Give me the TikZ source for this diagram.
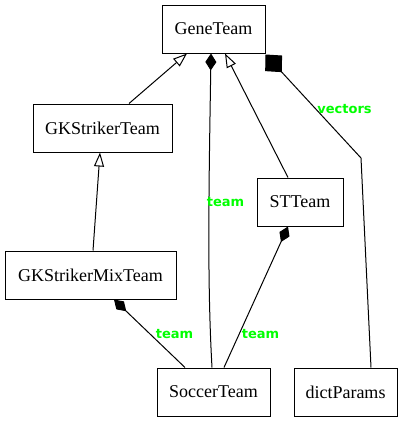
\documentclass[tikz,border=0pt]{standalone}
\usepackage{fontspec}
\setmainfont{Liberation Serif}
\newfontfamily\lblfont{DejaVu Sans}
\usetikzlibrary{arrows.meta,calc}
\definecolor{lblgreen}{HTML}{00FF00}
\tikzset{
  cls/.style={draw=black, line width=1pt, minimum height=48pt, inner sep=0pt,
    font=\fontsize{18}{20}\selectfont},
  edge/.style={line width=1pt, black},
  inh/.style={edge, {Triangle[open, length=14pt, width=10pt]}-},
  comp/.style={edge, {Diamond[length=17pt, width=11pt]}-},
  bigcomp/.style={edge, {Diamond[length=24pt, width=23pt]}-},
  lbl/.style={text=lblgreen, font=\lblfont\bfseries\fontsize{13}{15}\selectfont, inner sep=0pt}
}
\begin{document}
\begin{tikzpicture}[x=1pt, y=-1pt]
\useasboundingbox (0,0) rectangle (402,423);
\node[cls, minimum width=103pt] (GeneTeam) at (213.5,29) {GeneTeam};
\node[cls, minimum width=139pt] (GKStrikerTeam) at (102.5,128) {GKStrikerTeam};
\node[cls, minimum width=86pt] (STTeam) at (300,202) {STTeam};
\node[cls, minimum width=171pt] (GKStrikerMixTeam) at (90.5,275) {GKStrikerMixTeam};
\node[cls, minimum width=113pt] (SoccerTeam) at (213.5,392) {SoccerTeam};
\node[cls, minimum width=103pt] (dictParams) at (345.5,392) {dictParams};
% inheritance
\draw[inh] ($(GeneTeam.south)+(-26.5,0)$) -- ($(GKStrikerTeam.north)+(26.5,0)$);
\draw[inh] ($(GKStrikerTeam.south)+(-2.5,0)$) -- ($(GKStrikerMixTeam.north)+(2.5,0)$);
\draw[inh] ($(GeneTeam.south)+(11.5,0)$) -- ($(STTeam.north)+(-12,0)$);
% compositions
\draw[comp] ($(GeneTeam.south)+(-2.5,0)$) .. controls (209,180) and (207,280) .. ($(SoccerTeam.north)+(-1.5,0)$);
\draw[comp] ($(STTeam.south)+(-12,0)$) -- ($(SoccerTeam.north)+(10.5,0)$);
\draw[comp] ($(GKStrikerMixTeam.south)+(23.5,0)$) -- ($(SoccerTeam.north)+(-28.5,0)$);
\coordinate (bend) at (361,158);
\draw[bigcomp] ($(GeneTeam.south east)+(0,1)$) -- (bend) -- ($(dictParams.north)+(25.5,0)$);
% labels
\node[lbl] (l1) at (225.5,202) {team};
\node[lbl] (l2) at (344.5,109) {vectors};
\node[lbl] (l3) at (174.5,334) {team};
\node[lbl] (l4) at (260.5,334) {team};
\end{tikzpicture}
\end{document}
